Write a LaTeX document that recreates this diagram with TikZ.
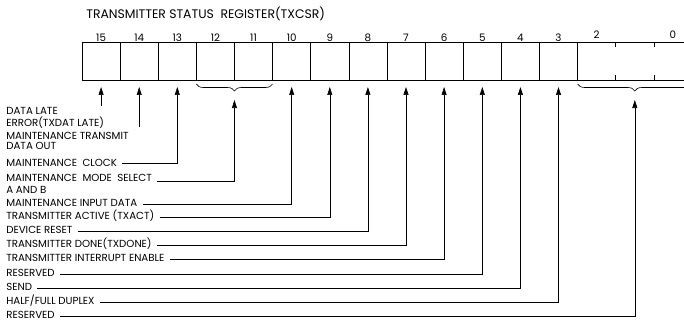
\documentclass[tikz,border=0pt]{standalone}
\usepackage{fontspec}
\setmainfont{Poppins}
\usetikzlibrary{arrows.meta, positioning, calc, decorations.pathreplacing}

\begin{document}
\begin{tikzpicture}[x=1pt, y=-1pt, line width=0.6pt,
  cell/.style={draw, minimum width=38.12pt, minimum height=38pt, inner sep=0pt, outer sep=0pt, label distance=3pt},
  bitnum/.style={font=\fontsize{10.3}{12}\selectfont, inner sep=0pt},
  lbl/.style={font=\fontsize{10.25}{12}\selectfont, inner sep=0pt, anchor=base west},
  arr/.style={-{Triangle[length=8pt, width=5pt]}, shorten <=5pt, shorten >=7pt},
  brc/.style={decorate, decoration={brace, mirror, amplitude=7pt}}]
  \useasboundingbox (0,0) rectangle (684,326);

  % Title
  \node[lbl, font=\fontsize{12.4}{14}\selectfont] (title) at (86,18.3) {TRANSMITTER STATUS\ \ REGISTER(TXCSR)};

  % Register cells with bit numbers
  \node[cell, label={[bitnum]above:15}] (b15) at (101.1,61) {};
  \node[cell, label={[bitnum]above:14}] (b14) at (139.2,61) {};
  \node[cell, label={[bitnum]above:13}] (b13) at (177.3,61) {};
  \node[cell, label={[bitnum]above:12}] (b12) at (215.4,61) {};
  \node[cell, label={[bitnum]above:11}] (b11) at (253.5,61) {};
  \node[cell, label={[bitnum]above:10}] (b10) at (291.7,61) {};
  \node[cell, label={[bitnum]above:9}] (b9) at (329.8,61) {};
  \node[cell, label={[bitnum]above:8}] (b8) at (367.9,61) {};
  \node[cell, label={[bitnum]above:7}] (b7) at (406.0,61) {};
  \node[cell, label={[bitnum]above:6}] (b6) at (444.1,61) {};
  \node[cell, label={[bitnum]above:5}] (b5) at (482.3,61) {};
  \node[cell, label={[bitnum]above:4}] (b4) at (520.4,61) {};
  \node[cell, label={[bitnum]above:3}] (b3) at (558.5,61) {};
  \node[cell, minimum width=114.36pt] (b20) at (634.8,61) {};
  \node[bitnum, above=3pt of b20.north west, xshift=19.06pt] (n2) {2};
  \node[bitnum, above=3pt of b20.north west, xshift=95.3pt] (n0) {0};

  % Ticks between bits 2, 1, 0
  \draw ([xshift=38.12pt]b20.north west) -- ++(0,5);
  \draw ([xshift=38.12pt]b20.south west) -- ++(0,-5);
  \draw ([xshift=76.24pt]b20.north west) -- ++(0,5);
  \draw ([xshift=76.24pt]b20.south west) -- ++(0,-5);

  % Braces
  \draw[brc] ([yshift=-4pt]b12.south west) -- ([yshift=-4pt]b11.south east) coordinate[midway, yshift=-16pt] (m1211);
  \draw[brc] ([yshift=-4pt]b20.south west) -- ([yshift=-4pt]b20.south east) coordinate[midway, yshift=-16pt] (m20);

  % Labels
  \node[lbl] (l15a) at (6,114) {DATA LATE};
  \node[lbl] (l15b) at (6,126) {ERROR(TXDAT LATE)};
  \node[lbl] (l14a) at (6,139) {MAINTENANCE TRANSMIT};
  \node[lbl] (l14b) at (6,149.5) {DATA OUT};
  \node[lbl] (l13) at (6,166) {MAINTENANCE\ \ CLOCK};
  \node[lbl] (l1211a) at (6,181) {MAINTENANCE\ \ MODE\ \ SELECT};
  \node[lbl] (l1211b) at (6,193) {A AND B};
  \node[lbl] (l10) at (6,206) {MAINTENANCE INPUT DATA};
  \node[lbl] (l9) at (6,219) {TRANSMITTER ACTIVE (TXACT)};
  \node[lbl] (l8) at (6,233) {DEVICE RESET};
  \node[lbl] (l7) at (6,247.5) {TRANSMITTER DONE(TXDONE)};
  \node[lbl] (l6) at (6,261.5) {TRANSMITTER INTERRUPT ENABLE};
  \node[lbl] (l5) at (6,276) {RESERVED};
  \node[lbl] (l4) at (6,290) {SEND};
  \node[lbl] (l3) at (6,304.5) {HALF/FULL DUPLEX};
  \node[lbl] (l20) at (6,318.5) {RESERVED};

  % Leaders
  \coordinate (e15) at (101.1,106);
  \coordinate (e14) at (139.2,127);
  \draw[arr, shorten <=0pt] (e15) -- (b15.south);
  \draw[arr, shorten <=0pt] (e14) -- (b14.south);
  \draw[arr] ([yshift=3pt]l13.base east) -| (b13.south);
  \draw[arr, shorten >=0pt] (l1211a.base east) -| (m1211);
  \draw[arr] ([yshift=2pt]l10.base east) -| (b10.south);
  \draw[arr] ([yshift=2pt]l9.base east) -| (b9.south);
  \draw[arr] ([yshift=2pt]l8.base east) -| (b8.south);
  \draw[arr] ([yshift=2pt]l7.base east) -| (b7.south);
  \draw[arr] ([yshift=2pt]l6.base east) -| (b6.south);
  \draw[arr] ([yshift=2pt]l5.base east) -| (b5.south);
  \draw[arr] ([yshift=2pt]l4.base east) -| (b4.south);
  \draw[arr] ([yshift=2pt]l3.base east) -| (b3.south);
  \draw[arr, shorten >=0pt] ([yshift=2pt]l20.base east) -| (m20);
\end{tikzpicture}
\end{document}
